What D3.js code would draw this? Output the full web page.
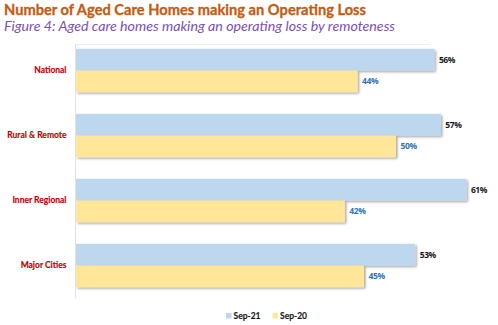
<!DOCTYPE html>
<html>
<head>
<meta charset="utf-8">
<script src="https://cdn.jsdelivr.net/npm/d3@7"></script>
<style>
  body { margin: 0; background: #fff; }
  svg { display: block; font-family: Lato, "Open Sans", sans-serif; }
</style>
</head>
<body>
<script>
// remoteness categories, top to bottom
var categories = ["National", "Rural & Remote", "Inner Regional", "Major Cities"];
var seriesNames = ["Sep-21", "Sep-20"];
var sep21 = [56, 57, 61, 53];
var sep20 = [44, 50, 42, 45];

var width = 498, height = 325;

var svg = d3.select("body").append("svg")
  .attr("width", width)
  .attr("height", height);

var defs = svg.append("defs");
defs.append("filter")
  .attr("id", "shadow")
  .attr("x", "-5%").attr("y", "-20%")
  .attr("width", "110%").attr("height", "150%")
  .append("feDropShadow")
  .attr("dx", 1.5).attr("dy", 1.5)
  .attr("stdDeviation", 0.8)
  .attr("flood-color", "#000")
  .attr("flood-opacity", 0.35);

svg.append("text")
  .attr("x", 4).attr("y", 15)
  .attr("fill", "#c55a11")
  .attr("font-size", 15.5)
  .attr("font-weight", "bold")
  .attr("stroke", "#c55a11")
  .attr("stroke-width", 0.3)
  .attr("textLength", 362)
  .attr("lengthAdjust", "spacingAndGlyphs")
  .text("Number of Aged Care Homes making an Operating Loss");

svg.append("text")
  .attr("x", 4).attr("y", 31)
  .attr("fill", "#7b4fb8")
  .attr("font-size", 14)
  .attr("font-style", "italic")
  .attr("textLength", 391)
  .attr("lengthAdjust", "spacingAndGlyphs")
  .text("Figure 4: Aged care homes making an operating loss by remoteness");

var x = d3.scaleLinear().domain([0, 65]).range([76, 492]);

var y = d3.scaleBand()
  .domain(categories)
  .range([38, 298])
  .paddingInner(1 / 3)
  .paddingOuter(1 / 6);

var y1 = d3.scaleBand()
  .domain(seriesNames)
  .range([0, y.bandwidth()]);

var colors = d3.scaleOrdinal().domain(seriesNames).range(["#bdd7ee", "#ffe699"]);
var labelColors = d3.scaleOrdinal().domain(seriesNames).range(["#1a1a1a", "#2e75b6"]);

// faint plot frame line along the top
svg.append("line")
  .attr("x1", 75.5).attr("x2", 430)
  .attr("y1", 44.5).attr("y2", 44.5)
  .attr("stroke", "#ececec");

var rows = categories.map((c, i) => ({
  category: c,
  values: [
    { series: "Sep-21", value: sep21[i] },
    { series: "Sep-20", value: sep20[i] }
  ]
}));

var groups = svg.append("g")
  .selectAll("g")
  .data(rows)
  .enter()
  .append("g")
  .attr("transform", (d) => `translate(0,${y(d.category)})`);

groups.selectAll("rect")
  .data((d) => d.values)
  .enter()
  .append("rect")
  .attr("x", x(0))
  .attr("y", (d) => y1(d.series))
  .attr("width", (d) => x(d.value) - x(0))
  .attr("height", y1.bandwidth())
  .attr("fill", (d) => colors(d.series))
  .attr("filter", "url(#shadow)");

groups.selectAll("text.value")
  .data((d) => d.values)
  .enter()
  .append("text")
  .attr("class", "value")
  .attr("x", (d) => x(d.value) + 4.5)
  .attr("y", (d) => y1(d.series) + y1.bandwidth() / 2)
  .attr("dy", "0.35em")
  .attr("font-family", "'Open Sans', sans-serif")
  .attr("font-size", 8.5)
  .attr("font-weight", "bold")
  .attr("letter-spacing", -0.4)
  .attr("fill", (d) => labelColors(d.series))
  .text((d) => d.value + "%");

// category axis
var yAxis = svg.append("g")
  .attr("transform", "translate(75.5,0)")
  .call(d3.axisLeft(y).tickSize(0).tickPadding(9));

yAxis.select(".domain").remove();
yAxis.append("line")
  .attr("y1", 44).attr("y2", 298)
  .attr("stroke", "#e2e2e2");

yAxis.selectAll(".tick text")
  .attr("font-family", "Lato, sans-serif")
  .attr("font-size", 8.5)
  .attr("font-weight", "bold")
  .attr("stroke", "#c00000")
  .attr("stroke-width", 0.15)
  .attr("fill", "#c00000");

// legend
var legend = svg.append("g")
  .attr("transform", "translate(226,313)");

var legendItems = legend.selectAll("g")
  .data(seriesNames)
  .enter()
  .append("g")
  .attr("transform", (d, i) => `translate(${i * 46.5},0)`);

legendItems.append("rect")
  .attr("width", 5.5).attr("height", 5.5)
  .attr("fill", (d) => colors(d));

legendItems.append("text")
  .attr("x", 7.5).attr("y", 2.8)
  .attr("dy", "0.35em")
  .attr("font-size", 8.5)
  .attr("font-weight", "bold")
  .attr("stroke", "#1a1a1a")
  .attr("stroke-width", 0.15)
  .attr("fill", "#1a1a1a")
  .text((d) => d);
</script>
</body>
</html>
